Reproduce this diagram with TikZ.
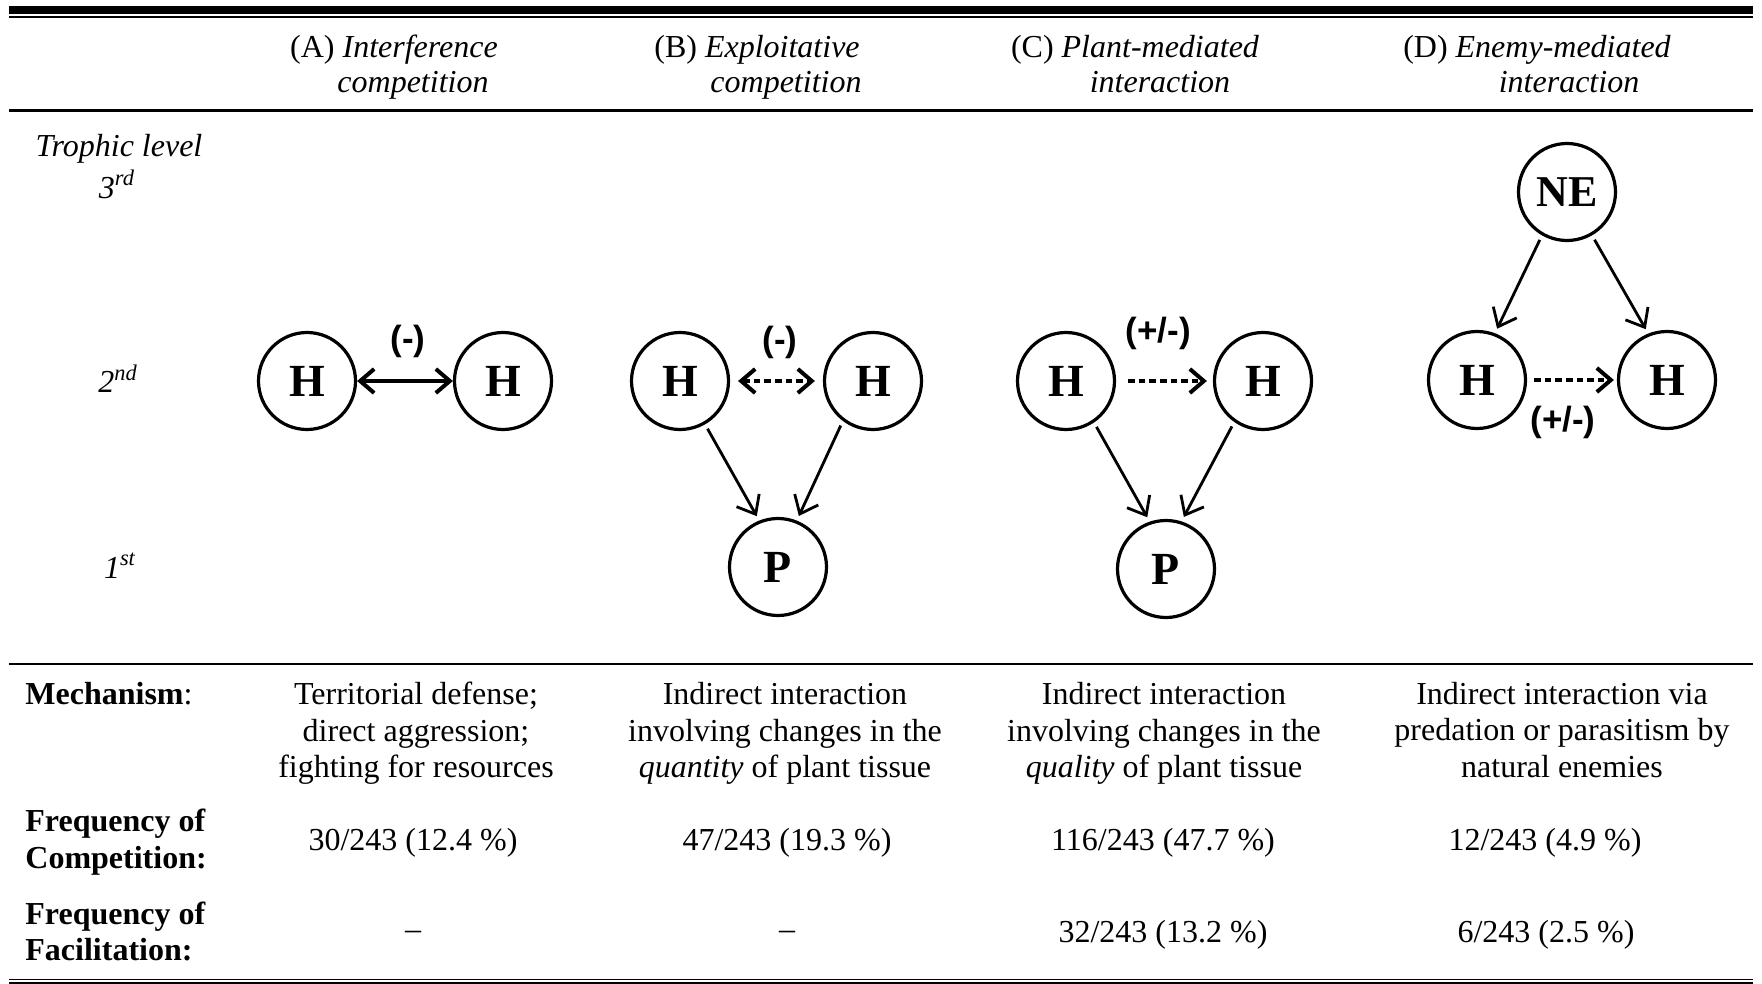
\documentclass[tikz,border=0pt]{standalone}
\usepackage{fontspec}
\setmainfont{Liberation Serif}
\newfontfamily\lblfont{Liberation Sans}
\usetikzlibrary{arrows.meta,positioning}

\begin{document}
\begin{tikzpicture}[x=0.5pt, y=-0.5pt,
  lbl/.style={font=\lblfont\bfseries\fontsize{17.5}{20}\selectfont, inner sep=0pt},
  txt/.style={font=\fontsize{16}{18.25}\selectfont, align=center, inner sep=0pt}]
\tikzstyle{vtx}=[circle, draw, line width=1.6pt, minimum size=48.5pt, inner sep=0pt, font=\bfseries\fontsize{23}{26}\selectfont]
\tikzstyle{eat}=[line width=1.4pt, -{Straight Barb[length=8pt,width=13pt]}, shorten <=2.5pt, shorten >=2.5pt]
\tikzstyle{thickarr}=[line width=2pt, {Straight Barb[length=7pt,width=12pt]}-{Straight Barb[length=7pt,width=12pt]}]
\tikzstyle{dotarr}=[line width=2pt, dash pattern=on 3.3pt off 2pt, -{Straight Barb[length=7pt,width=12pt]}]
\useasboundingbox (0,0) rectangle (1762,984);
% rules of the table
\draw[line width=4pt] (9,10) -- (1753,10);
\draw[line width=1pt] (9,16.7) -- (1753,16.7);
\draw[line width=1.2pt] (9,110.5) -- (1753,110.5);
\draw[line width=1pt] (9,664) -- (1753,664);
\draw[line width=0.75pt] (9,979.5) -- (1753,979.5);
\draw[line width=1pt] (9,983) -- (1753,983);
% column heads
\node[txt, anchor=base] (ha1) at (394,58) {(A) \textit{Interference}};
\node[txt, anchor=base] (ha2) at (413,93) {\textit{competition}};
\node[txt, anchor=base] (hb1) at (757,58) {(B) \textit{Exploitative}};
\node[txt, anchor=base] (hb2) at (786,93) {\textit{competition}};
\node[txt, anchor=base] (hc1) at (1135,58) {(C) \textit{Plant-mediated}};
\node[txt, anchor=base] (hc2) at (1160,93) {\textit{interaction}};
\node[txt, anchor=base] (hd1) at (1537,58) {(D) \textit{Enemy-mediated}};
\node[txt, anchor=base] (hd2) at (1569,93) {\textit{interaction}};
% trophic levels
\node[txt, anchor=base] (tl) at (119,157) {\textit{Trophic level}};
\node[txt, anchor=base] (t3) at (117,198.5) {\textit{3\textsuperscript{rd}}};
\node[txt, anchor=base] (t2) at (118,393) {\textit{2\textsuperscript{nd}}};
\node[txt, anchor=base] (t1) at (120,578) {\textit{1\textsuperscript{st}}};
% webs
\node[vtx] (a1) at (307,381) {H};
\node[vtx] (a2) at (503,381) {H};
\node[vtx] (b1) at (680,381) {H};
\node[vtx] (b2) at (873,381) {H};
\node[vtx] (b3) at (778,567) {P};
\node[vtx] (c1) at (1066,381) {H};
\node[vtx] (c2) at (1263,381) {H};
\node[vtx] (c3) at (1166,569) {P};
\node[vtx, font=\bfseries\fontsize{22}{26}\selectfont] (d0) at (1567,192) {NE};
\node[vtx] (d1) at (1477,380) {H};
\node[vtx] (d2) at (1667,380) {H};
\draw[thickarr] (a1) -- node[lbl, xshift=1.5pt, yshift=20pt]{(-)} (a2);
\draw[dotarr, {Straight Barb[length=7pt,width=12pt]}-{Straight Barb[length=7pt,width=12pt]}, shorten <=4pt, shorten >=4pt] (b1) -- node[lbl, xshift=1.7pt, yshift=19.5pt]{(-)} (b2);
\draw[dotarr, shorten <=6pt, shorten >=3pt] (c1) -- node[lbl, xshift=-3.2pt, yshift=24pt]{(+/-)} (c2);
\draw[dotarr, shorten <=3.5pt, shorten >=1.5pt] (d1) -- node[lbl, xshift=-4.5pt, yshift=-21pt]{(+/-)} (d2);
\foreach \i/\a/\j/\b in {b1/-60/b3/112, b2/-127/b3/68, c1/-56/c3/109, c2/-125/c3/72, d0/-120/d1/69, d0/-60/d2/112}{\draw[eat] (\i.\a) -- (\j.\b);}
% rows below
\node[txt, anchor=west] (rm) at (25,694) {\textbf{Mechanism}:};
\node[txt, anchor=west, align=left] (rc) at (25,842) {\textbf{Frequency of}\\\textbf{Competition:}};
\node[txt, anchor=west, align=left] (rf) at (25,931.5) {\textbf{Frequency of}\\\textbf{Facilitation:}};
\node[txt] (ma) at (416,733.5) {Territorial defense;\\direct aggression;\\fighting for resources};
\node[txt] (mb) at (785,733.5) {Indirect interaction\\involving changes in the\\\textit{quantity} of plant tissue};
\node[txt] (mc) at (1164,733.5) {Indirect interaction\\involving changes in the\\\textit{quality} of plant tissue};
\node[txt] (md) at (1562,730) {Indirect interaction via\\predation or parasitism by\\natural enemies};
\node[txt] (ca) at (413,842.5) {30/243 (12.4 \%)};
\node[txt] (cb) at (787,842.5) {47/243 (19.3 \%)};
\node[txt] (cc) at (1163,842.5) {116/243 (47.7 \%)};
\node[txt] (cd) at (1545,842.5) {12/243 (4.9 \%)};
\node[txt] (fa) at (413,935) {–};
\node[txt] (fb) at (787,935) {–};
\node[txt] (fc) at (1163,935) {32/243 (13.2 \%)};
\node[txt] (fd) at (1546,935) {6/243 (2.5 \%)};
\end{tikzpicture}
\end{document}
